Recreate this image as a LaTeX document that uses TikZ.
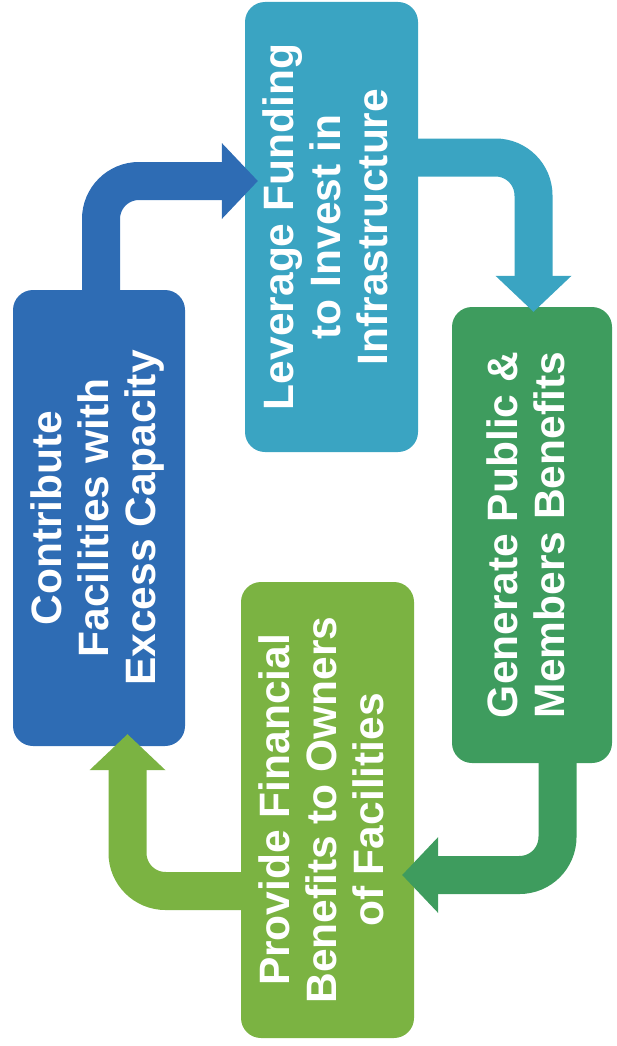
\documentclass[tikz,border=0pt]{standalone}
\usepackage{fontspec}
\setmainfont{Liberation Sans}
\usetikzlibrary{arrows.meta}

\definecolor{cblue}{RGB}{46,108,180}
\definecolor{cteal}{RGB}{58,164,194}
\definecolor{cgreen}{RGB}{62,156,94}
\definecolor{clime}{RGB}{123,179,66}

\newcommand{\stagetext}[1]{\rotatebox{90}{\begin{tabular}{@{}c@{}}#1\end{tabular}}}

\tikzset{
  stage/.style={rectangle, rounded corners=20pt, inner sep=0pt, draw=none,
    text=white, font=\fontsize{42.5}{47}\selectfont\bfseries},
  flow/.style={line width=38pt, rounded corners=38pt,
    -{Triangle[length=36pt,width=76pt,line width=0pt]}},
}

\begin{document}
\begin{tikzpicture}[x=1pt,y=1pt]
  \useasboundingbox (0,0) rectangle (617,-1046);

  % the four stages of the cycle
  \node[stage, fill=cblue, minimum width=172pt, minimum height=456pt] (contrib) at (99,-518)
    {\stagetext{Contribute\\Facilities with\\Excess Capacity}};
  \node[stage, fill=cteal, minimum width=173pt, minimum height=450pt] (leverage) at (331.5,-227)
    {\stagetext{Leverage Funding\\to Invest in\\Infrastructure}};
  \node[stage, fill=cgreen, minimum width=160pt, minimum height=456pt] (generate) at (532,-535)
    {\stagetext{Generate Public \&\\Members Benefits}};
  \node[stage, fill=clime, minimum width=173pt, minimum height=456pt] (provide) at (327.5,-810)
    {\stagetext{Provide Financial\\Benefits to Owners\\of Facilities}};

  % bent arrows joining the stages
  \draw[flow, cblue] ([xshift=2pt,yshift=-10pt]contrib.north)
    |- ([xshift=13pt,yshift=46pt]leverage.west);
  \draw[flow, cteal] ([xshift=-10pt,yshift=69.5pt]leverage.east)
    -| ([xshift=1.5pt,yshift=-5pt]generate.north);
  \draw[flow, cgreen] ([xshift=25.5pt,yshift=10pt]generate.south)
    |- ([xshift=-12pt,yshift=-65pt]provide.east);
  \draw[flow, clime] ([xshift=10pt,yshift=-81pt]provide.west)
    -| ([xshift=28.5pt,yshift=12pt]contrib.south);
\end{tikzpicture}
\end{document}
